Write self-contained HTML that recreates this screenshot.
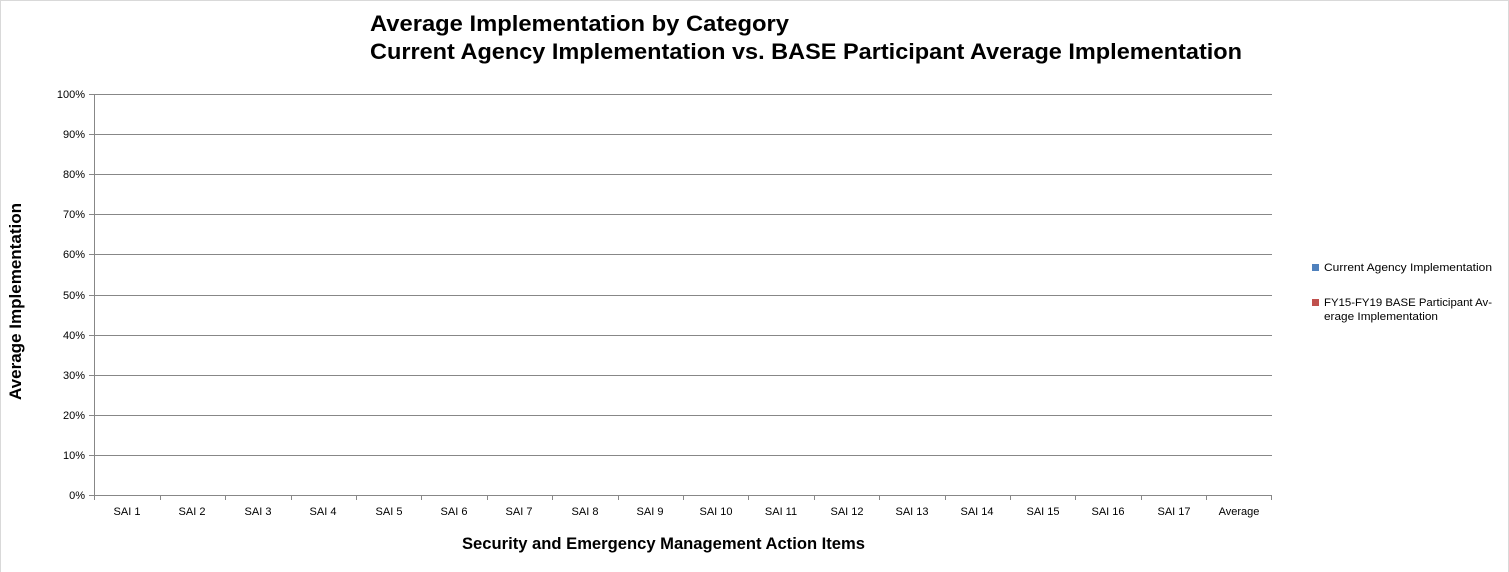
<!DOCTYPE html>
<html>
<head>
<meta charset="utf-8">
<style>
html,body{margin:0;padding:0;background:#fff;}
body{width:1509px;height:572px;overflow:hidden;}
svg{display:block;}
text{font-family:"Liberation Sans",sans-serif;}
</style>
</head>
<body>
<svg width="1509" height="572" viewBox="0 0 1509 572" xmlns="http://www.w3.org/2000/svg">
<rect x="0.5" y="0.5" width="1508" height="580" fill="#fff" stroke="#d9d9d9" stroke-width="1"/>

<!-- Title -->
<text x="370" y="31" font-size="22" font-weight="bold" fill="#000" textLength="419" lengthAdjust="spacingAndGlyphs">Average Implementation by Category</text>
<text x="370" y="59" font-size="22" font-weight="bold" fill="#000" textLength="872" lengthAdjust="spacingAndGlyphs">Current Agency Implementation vs. BASE Participant Average Implementation</text>

<!-- Gridlines -->
<g stroke="#878787" stroke-width="1" shape-rendering="crispEdges">
<line x1="89" y1="94.5" x2="1272" y2="94.5"/>
<line x1="89" y1="134.5" x2="1272" y2="134.5"/>
<line x1="89" y1="174.5" x2="1272" y2="174.5"/>
<line x1="89" y1="214.5" x2="1272" y2="214.5"/>
<line x1="89" y1="254.5" x2="1272" y2="254.5"/>
<line x1="89" y1="295.5" x2="1272" y2="295.5"/>
<line x1="89" y1="335.5" x2="1272" y2="335.5"/>
<line x1="89" y1="375.5" x2="1272" y2="375.5"/>
<line x1="89" y1="415.5" x2="1272" y2="415.5"/>
<line x1="89" y1="455.5" x2="1272" y2="455.5"/>
<line x1="89" y1="495.5" x2="1272" y2="495.5"/>
<!-- y axis -->
<line x1="94.5" y1="94" x2="94.5" y2="500"/>
<!-- category ticks -->
<line x1="160.5" y1="495" x2="160.5" y2="500"/>
<line x1="225.5" y1="495" x2="225.5" y2="500"/>
<line x1="291.5" y1="495" x2="291.5" y2="500"/>
<line x1="356.5" y1="495" x2="356.5" y2="500"/>
<line x1="421.5" y1="495" x2="421.5" y2="500"/>
<line x1="487.5" y1="495" x2="487.5" y2="500"/>
<line x1="552.5" y1="495" x2="552.5" y2="500"/>
<line x1="618.5" y1="495" x2="618.5" y2="500"/>
<line x1="683.5" y1="495" x2="683.5" y2="500"/>
<line x1="748.5" y1="495" x2="748.5" y2="500"/>
<line x1="814.5" y1="495" x2="814.5" y2="500"/>
<line x1="879.5" y1="495" x2="879.5" y2="500"/>
<line x1="945.5" y1="495" x2="945.5" y2="500"/>
<line x1="1010.5" y1="495" x2="1010.5" y2="500"/>
<line x1="1075.5" y1="495" x2="1075.5" y2="500"/>
<line x1="1141.5" y1="495" x2="1141.5" y2="500"/>
<line x1="1206.5" y1="495" x2="1206.5" y2="500"/>
<line x1="1271.5" y1="495" x2="1271.5" y2="500"/>
</g>

<!-- Y labels -->
<g font-size="11" fill="#000" text-anchor="end">
<text x="85" y="98">100%</text>
<text x="85" y="138">90%</text>
<text x="85" y="178">80%</text>
<text x="85" y="218">70%</text>
<text x="85" y="258">60%</text>
<text x="85" y="299">50%</text>
<text x="85" y="339">40%</text>
<text x="85" y="379">30%</text>
<text x="85" y="419">20%</text>
<text x="85" y="459">10%</text>
<text x="85" y="499">0%</text>
</g>

<!-- X labels -->
<g font-size="11" fill="#000" text-anchor="middle">
<text x="127" y="515">SAI 1</text>
<text x="192" y="515">SAI 2</text>
<text x="258" y="515">SAI 3</text>
<text x="323" y="515">SAI 4</text>
<text x="389" y="515">SAI 5</text>
<text x="454" y="515">SAI 6</text>
<text x="519" y="515">SAI 7</text>
<text x="585" y="515">SAI 8</text>
<text x="650" y="515">SAI 9</text>
<text x="716" y="515">SAI 10</text>
<text x="781" y="515">SAI 11</text>
<text x="847" y="515">SAI 12</text>
<text x="912" y="515">SAI 13</text>
<text x="977" y="515">SAI 14</text>
<text x="1043" y="515">SAI 15</text>
<text x="1108" y="515">SAI 16</text>
<text x="1174" y="515">SAI 17</text>
<text x="1239" y="515">Average</text>
</g>

<!-- Axis titles -->
<text x="462" y="549" font-size="17" font-weight="bold" fill="#000" textLength="403" lengthAdjust="spacingAndGlyphs">Security and Emergency Management Action Items</text>
<text transform="translate(21,400) rotate(-90)" x="0" y="0" font-size="17" font-weight="bold" fill="#000" textLength="197" lengthAdjust="spacingAndGlyphs">Average Implementation</text>

<!-- Legend -->
<rect x="1312" y="264" width="7" height="7" fill="#4f81bd"/>
<text x="1324" y="271" font-size="11" fill="#000" textLength="168" lengthAdjust="spacingAndGlyphs">Current Agency Implementation</text>
<rect x="1312" y="299" width="7" height="7" fill="#c0504d"/>
<text x="1324" y="306" font-size="11" fill="#000" textLength="168" lengthAdjust="spacingAndGlyphs">FY15-FY19 BASE Participant Av-</text>
<text x="1324" y="320" font-size="11" fill="#000" textLength="114" lengthAdjust="spacingAndGlyphs">erage Implementation</text>
</svg>
</body>
</html>
